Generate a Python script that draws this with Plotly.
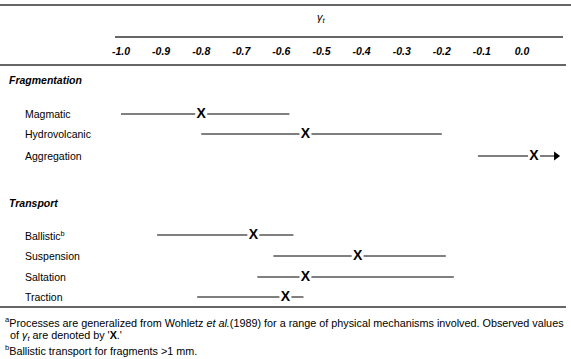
import plotly.graph_objects as go

# ---- data ----
frag_labels = ["Magmatic", "Hydrovolcanic", "Aggregation"]
frag_lo = [-1.0, -0.80, -0.11]
frag_hi = [-0.58, -0.20, 0.085]
frag_obs = [-0.80, -0.54, 0.03]

trans_labels = ["Ballistic<sup>b</sup>", "Suspension", "Saltation", "Traction"]
trans_lo = [-0.91, -0.62, -0.66, -0.81]
trans_hi = [-0.57, -0.19, -0.17, -0.545]
trans_obs = [-0.67, -0.41, -0.54, -0.59]

tick_vals = [-1.0, -0.9, -0.8, -0.7, -0.6, -0.5, -0.4, -0.3, -0.2, -0.1, 0.0]
tick_text = ["-1.0", "-0.9", "-0.8", "-0.7", "-0.6", "-0.5", "-0.4", "-0.3", "-0.2", "-0.1", "0.0"]

# ---- layout constants (pixel rows) ----
W, H = 571, 359
frag_rows = [114, 134, 156]
trans_rows = [235, 256, 277, 297]
FONT = "Liberation Sans, Arial, sans-serif"

fig = go.Figure()

def add_rows(lo, hi, obs, rows):
    for a, b, o, y in zip(lo, hi, obs, rows):
        fig.add_trace(go.Scatter(x=[a, b], y=[y, y], mode="lines",
                                 line=dict(color="black", width=1), hoverinfo="skip",
                                 showlegend=False))
        fig.add_trace(go.Scatter(x=[o], y=[y], mode="markers+text", text=["X"],
                                 textposition="middle center",
                                 textfont=dict(family=FONT, size=14, color="black", weight="bold"),
                                 marker=dict(symbol="square", size=12, color="white"),
                                 hoverinfo="skip", showlegend=False))

add_rows(frag_lo, frag_hi, frag_obs, frag_rows)
add_rows(trans_lo, trans_hi, trans_obs, trans_rows)

# arrow for aggregation (open upper end)
fig.add_trace(go.Scatter(x=[frag_hi[2]], y=[frag_rows[2]], mode="markers",
                         marker=dict(symbol="triangle-right", size=8, color="black"),
                         hoverinfo="skip", showlegend=False))

annotations = []
# section headers
annotations.append(dict(text="<b><i>Fragmentation</i></b>", x=7 / W, y=80))
annotations.append(dict(text="<b><i>Transport</i></b>", x=7 / W, y=203))
for lab, y in zip(frag_labels, frag_rows):
    annotations.append(dict(text=lab, x=23 / W, y=y))
for lab, y in zip(trans_labels, trans_rows):
    annotations.append(dict(text=lab, x=23 / W, y=y))
for a in annotations:
    a.update(xref="paper", yref="y", xanchor="left", yanchor="middle", showarrow=False,
             font=dict(family=FONT, size=10.5, color="black"))

# axis title gamma_t
annotations.append(dict(text="<i>γ<sub>t</sub></i>", x=-0.5, y=18, xref="x", yref="y",
                        showarrow=False, xanchor="center", yanchor="middle",
                        font=dict(family=FONT, size=11, color="black")))

# footnotes
foot = [
    ("<sup>a</sup>Processes are generalized from Wohletz <i>et al.</i>(1989) for a range of physical mechanisms involved. Observed values", 3, 322),
    ("of <i>γ<sub>t</sub></i> are denoted by '<b>X</b>.'", 8, 336),
    ("<sup>b</sup>Ballistic transport for fragments >1 mm.", 3, 350),
]
for t, x, y in foot:
    annotations.append(dict(text=t, x=x / W, y=y, xref="paper", yref="y", xanchor="left",
                            yanchor="middle", showarrow=False,
                            font=dict(family=FONT, size=10.8, color="black")))

rule = dict(color="#333", width=1.5)
shapes = [
    dict(type="line", xref="paper", yref="y", x0=0, x1=1, y0=5, y1=5, line=rule),
    dict(type="line", xref="paper", yref="y", x0=115 / W, x1=563 / W, y0=37, y1=37, line=rule),
    dict(type="line", xref="paper", yref="y", x0=0, x1=566 / W, y0=65, y1=65, line=rule),
    dict(type="line", xref="paper", yref="y", x0=0, x1=566 / W, y0=307, y1=307, line=rule),
]

x0 = (0 - 522) / 401
x1 = (W - 522) / 401
fig.update_layout(
    width=W, height=H, autosize=False,
    margin=dict(l=0, r=0, t=0, b=0),
    paper_bgcolor="white", plot_bgcolor="white",
    xaxis=dict(range=[x0, x1], showgrid=False, zeroline=False, showline=False,
               tickvals=tick_vals, ticktext=tick_text, ticks="",
               side="top", anchor="free", position=1 - 57 / H,
               tickfont=dict(family=FONT, size=10.5, color="black", weight="bold", style="italic")),
    yaxis=dict(range=[H, 0], showgrid=False, zeroline=False, showline=False,
               showticklabels=False, ticks=""),
    annotations=annotations,
    shapes=shapes,
)

fig.write_html("out.html", config={"displayModeBar": False},
               post_script="document.body.style.margin='0';document.body.style.padding='0';")
